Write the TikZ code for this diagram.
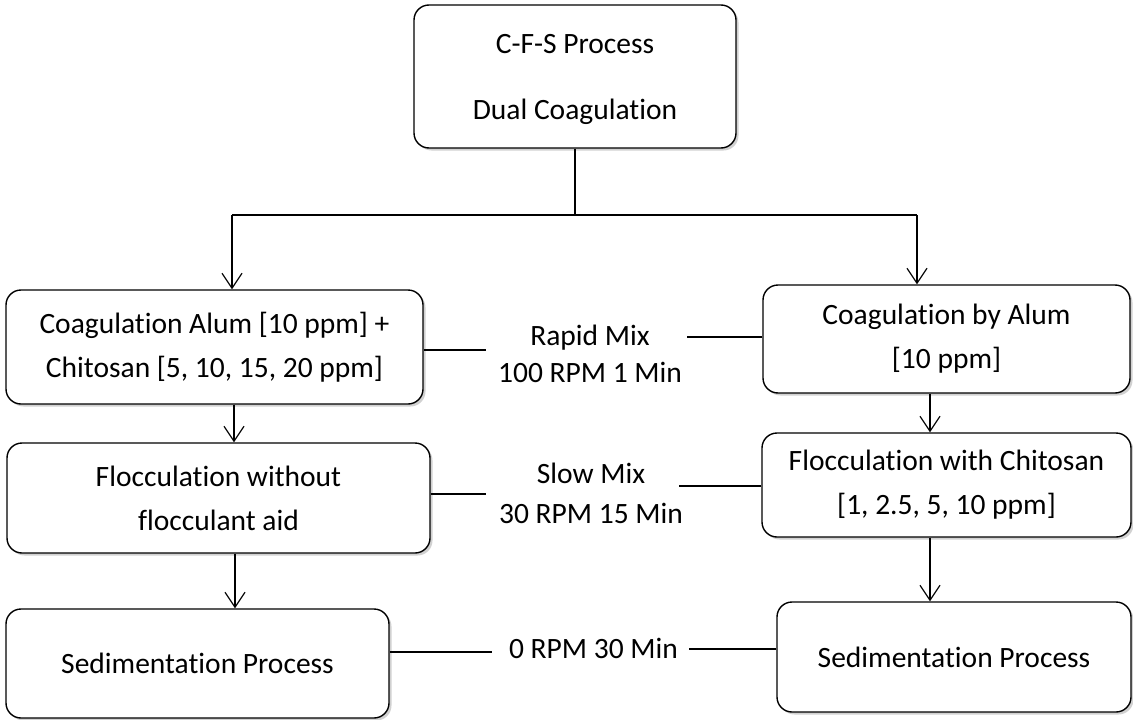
\documentclass[tikz,border=0pt]{standalone}
\usepackage{fontspec}
\setmainfont[Ligatures=NoCommon]{Carlito}
\usetikzlibrary{arrows.meta,shadows}
\begin{document}
\begin{tikzpicture}[x=1pt,y=-1pt,
  font=\fontsize{29.5}{44}\selectfont,
  box/.style={draw=black, line width=1.4pt, rounded corners=15pt, fill=white, align=center, inner sep=0pt,
    drop shadow={shadow xshift=2.5pt, shadow yshift=-2.5pt, opacity=0.3, fill=black!60}},
  lbl/.style={align=center, inner sep=0pt},
  conn/.style={line width=1.2pt, draw=black},
  arr/.style={conn, -{Straight Barb[length=15pt,width=20pt,line width=1.2pt]}}
]
\useasboundingbox (0,0) rectangle (1133,720);

\node[box, minimum width=322pt, minimum height=143pt] (top) at (575,76.5) {};
\node[lbl, font=\fontsize{29.5}{66}\selectfont] (toptxt) at (575,79.5) {C-F-S Process\\Dual Coagulation};

\node[box, minimum width=417pt, minimum height=114pt] (lc) at (214.5,347) {Coagulation Alum [10 ppm] +\\Chitosan [5, 10, 15, 20 ppm]};
\node[box, minimum width=367pt, minimum height=108pt] (rc) at (946.5,339) {Coagulation by Alum\\{}[10 ppm]};

\node[box, minimum width=423pt, minimum height=110pt] (lf) at (218.5,498) {Flocculation without\\flocculant aid};
\node[box, minimum width=369pt, minimum height=104pt] (rf) at (946.5,485) {Flocculation with Chitosan\\{}[1, 2.5, 5, 10 ppm]};

\node[box, minimum width=383pt, minimum height=109pt] (ls) at (197.5,663.5) {Sedimentation Process};
\node[box, minimum width=354pt, minimum height=110pt] (rs) at (954,657) {Sedimentation Process};

\node[lbl, font=\fontsize{29.5}{37}\selectfont] (m1) at (590,354) {Rapid Mix\\100 RPM 1 Min};
\node[lbl, font=\fontsize{29.5}{40}\selectfont] (m2) at (591,493) {Slow Mix\\30 RPM 15 Min};
\node[lbl] (m3) at (593.5,648) {0 RPM 30 Min};

\coordinate (split) at (575,215);
\coordinate (lsplit) at (232,215);
\coordinate (rsplit) at (917,215);
\coordinate (m1w) at ([xshift=-12pt]m1.west);
\coordinate (m1e) at ([xshift=5pt]m1.east);
\coordinate (m2w) at ([xshift=-13pt]m2.west);
\coordinate (m2e) at ([xshift=-4pt]m2.east);
\coordinate (m3w) at ([xshift=-17pt]m3.west);
\coordinate (m3e) at ([xshift=11pt]m3.east);

\draw[conn] (top.south) -- (split);
\draw[conn] (lsplit) -- (rsplit);
\draw[arr] (lsplit) -- (lsplit |- lc.north);
\draw[arr] (rsplit) -- (rsplit |- rc.north);

\draw[arr] ([xshift=19.5pt]lc.south) -- ([xshift=19.5pt]lc.south |- lf.north);
\draw[arr] ([xshift=16.5pt]lf.south) -- ([xshift=16.5pt]lf.south |- ls.north);
\draw[arr] ([xshift=-16.5pt]rc.south) -- ([xshift=-16.5pt]rc.south |- rf.north);
\draw[arr] ([xshift=-16.5pt]rf.south) -- ([xshift=-16.5pt]rf.south |- rs.north);

\draw[conn] ([yshift=-3pt]lc.east) -- ([yshift=-3pt]lc.east -| m1w);
\draw[conn] ([yshift=2pt]rc.west) -- ([yshift=2pt]rc.west -| m1e);

\draw[conn] ([yshift=4pt]lf.east) -- ([yshift=4pt]lf.east -| m2w);
\draw[conn] ([yshift=-1pt]rf.west) -- ([yshift=-1pt]rf.west -| m2e);

\draw[conn] ([yshift=11.5pt]ls.east) -- ([yshift=11.5pt]ls.east -| m3w);
\draw[conn] ([yshift=8pt]rs.west) -- ([yshift=8pt]rs.west -| m3e);
\end{tikzpicture}
\end{document}
